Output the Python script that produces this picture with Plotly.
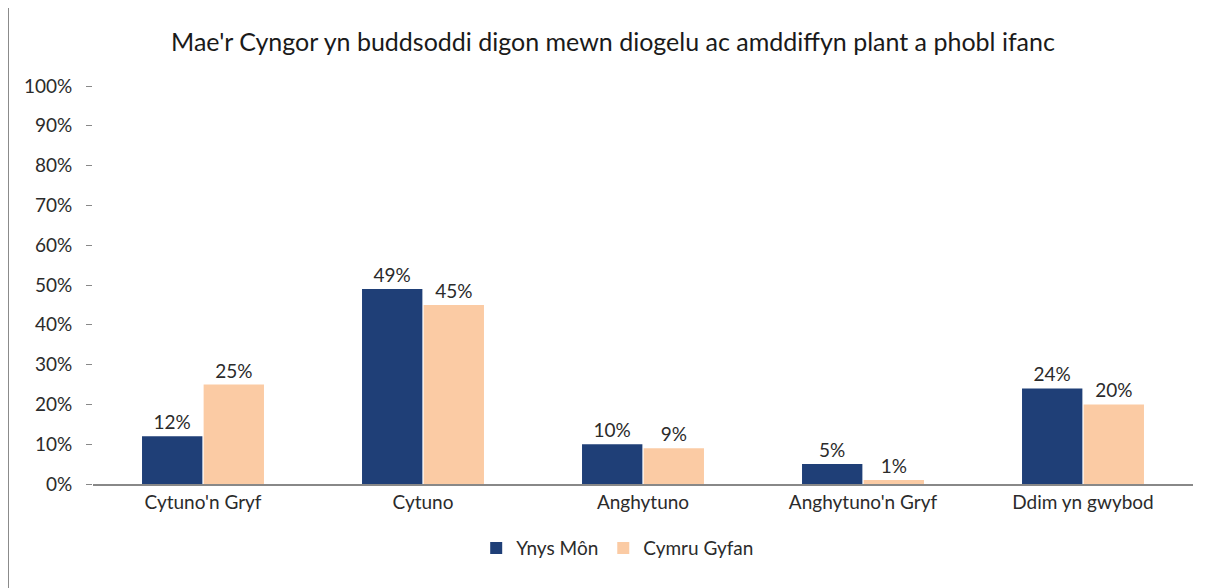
import plotly.graph_objects as go

categories = ["Cytuno'n Gryf", "Cytuno", "Anghytuno", "Anghytuno'n Gryf", "Ddim yn gwybod"]
ynys_mon = [12, 49, 10, 5, 24]
cymru_gyfan = [25, 45, 9, 1, 20]
tick_vals = [0, 10, 20, 30, 40, 50, 60, 70, 80, 90, 100]
tick_text = [f"{v}%" for v in tick_vals]

font_family = "Lato, Open Sans, sans-serif"
txt_col = "#2b2b2b"

fig = go.Figure()
fig.add_trace(go.Bar(
    x=categories, y=ynys_mon, name="Ynys Môn",
    marker=dict(color="#1F3F77", line=dict(width=0)),
    text=[f"{v}%" for v in ynys_mon], textposition="outside",
    textfont=dict(size=19, color=txt_col), cliponaxis=False,
))
fig.add_trace(go.Bar(
    x=categories, y=cymru_gyfan, name="Cymru Gyfan",
    marker=dict(color="#FBCBA4", line=dict(width=0)),
    text=[f"{v}%" for v in cymru_gyfan], textposition="outside",
    textfont=dict(size=19, color=txt_col), cliponaxis=False,
))

fig.update_layout(
    width=1210, height=588,
    paper_bgcolor="white", plot_bgcolor="white",
    font=dict(family=font_family, size=19, color=txt_col),
    title=dict(text="Mae'r Cyngor yn buddsoddi digon mewn diogelu ac amddiffyn plant a phobl ifanc",
               x=0.5, xanchor="center", xref="container", y=0.942, yanchor="middle",
               font=dict(size=25, color="#1a1a1a")),
    margin=dict(l=85, r=25, t=78, b=112, autoexpand=False),
    barmode="group", bargap=0.44, bargroupgap=0.02,
    showlegend=True,
    legend=dict(orientation="h", x=0.477, xanchor="center", y=-0.161, yanchor="middle",
                font=dict(size=19, color=txt_col), traceorder="normal"),
    xaxis=dict(showline=True, linecolor="#888888", linewidth=1.5, ticks="",
               tickfont=dict(size=19, color=txt_col), showgrid=False),
    yaxis=dict(range=[0, 100], tickvals=tick_vals, ticktext=tick_text,
               showgrid=False, zeroline=False, showline=False,
               ticks="outside", ticklen=6, tickcolor="#888888",
               ticklabelstandoff=10,
               tickfont=dict(size=19, color=txt_col)),
)

fig.add_shape(type="line", xref="paper", yref="paper", x0=-0.0773, x1=-0.0773, y0=-0.35, y1=1.196,
              line=dict(color="#888888", width=2))

fig.write_html("out.html")
